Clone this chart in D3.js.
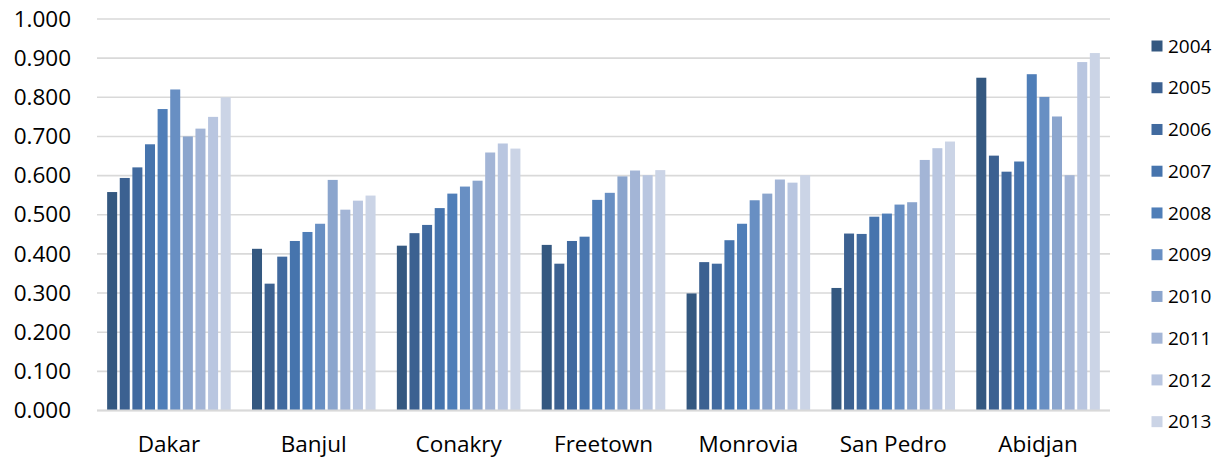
<!DOCTYPE html>
<html>
<head>
<meta charset="utf-8">
<script src="https://cdn.jsdelivr.net/npm/d3@7"></script>
<style>
  html, body { margin: 0; padding: 0; background: #fff; }
  svg { display: block; }
  text { font-family: "Open Sans", "Liberation Sans", sans-serif; fill: #000; }
</style>
</head>
<body>
<svg id="chart" width="1217" height="459"></svg>
<script>
// Cities along the x axis
const cities = ["Dakar", "Banjul", "Conakry", "Freetown", "Monrovia", "San Pedro", "Abidjan"];
// One series per year
const years = ["2004", "2005", "2006", "2007", "2008", "2009", "2010", "2011", "2012", "2013"];

// Index values per city, in year order 2004..2013
const dakar    = [0.558, 0.594, 0.621, 0.680, 0.770, 0.820, 0.700, 0.720, 0.750, 0.800];
const banjul   = [0.413, 0.324, 0.393, 0.433, 0.456, 0.477, 0.589, 0.513, 0.536, 0.549];
const conakry  = [0.421, 0.453, 0.474, 0.517, 0.554, 0.572, 0.587, 0.659, 0.682, 0.669];
const freetown = [0.423, 0.375, 0.433, 0.444, 0.538, 0.556, 0.598, 0.613, 0.601, 0.614];
const monrovia = [0.299, 0.379, 0.375, 0.435, 0.477, 0.537, 0.554, 0.590, 0.582, 0.601];
const sanPedro = [0.313, 0.452, 0.451, 0.495, 0.503, 0.526, 0.532, 0.640, 0.670, 0.687];
const abidjan  = [0.850, 0.651, 0.610, 0.636, 0.859, 0.801, 0.751, 0.601, 0.890, 0.913];

const yTicks = [0, 0.1, 0.2, 0.3, 0.4, 0.5, 0.6, 0.7, 0.8, 0.9, 1.0];

const colors = ["#345880", "#3c6191", "#416a9f", "#4674ad", "#4f7eb8",
                "#688fc3", "#8ba5cd", "#a3b5d6", "#b9c6e0", "#cbd4e6"];

const rows = [dakar, banjul, conakry, freetown, monrovia, sanPedro, abidjan];
const data = cities.map((c, i) => ({ city: c, values: years.map((y, j) => ({ year: y, value: rows[i][j] })) }));

const svg = d3.select("#chart");
const plot = { left: 97, right: 1110, top: 19, bottom: 410.5 };

const y = d3.scaleLinear().domain([0, 1]).range([plot.bottom, plot.top]);
const x0 = d3.scaleBand().domain(cities).range([plot.left, plot.right])
  .paddingInner(0.147).paddingOuter(0.07);
const x1 = d3.scaleBand().domain(years).range([0, x0.bandwidth()]).paddingInner(0.206).paddingOuter(0);
const color = d3.scaleOrdinal().domain(years).range(colors);

// Horizontal gridlines
svg.append("g")
  .selectAll("line")
  .data(yTicks)
  .join("line")
  .attr("x1", plot.left).attr("x2", plot.right)
  .attr("y1", d => y(d)).attr("y2", d => y(d))
  .attr("stroke", "#d9d9d9")
  .attr("stroke-width", 1.6);

// Y axis labels
const yAxis = d3.axisLeft(y).tickValues(yTicks).tickFormat(d3.format(".3f")).tickSize(0).tickPadding(0);
svg.append("g")
  .attr("transform", `translate(71,0)`)
  .call(yAxis)
  .call(g => g.select(".domain").remove())
  .call(g => g.selectAll("text")
    .attr("font-family", "'Open Sans', sans-serif")
    .attr("font-size", 22.5)
    .attr("fill", "#000"));

// Bars
svg.append("g")
  .selectAll("g")
  .data(data)
  .join("g")
  .attr("transform", d => `translate(${x0(d.city)},0)`)
  .selectAll("rect")
  .data(d => d.values)
  .join("rect")
  .attr("x", d => x1(d.year))
  .attr("width", x1.bandwidth())
  .attr("y", d => y(d.value))
  .attr("height", d => y(0) - y(d.value))
  .attr("fill", d => color(d.year));

// Baseline
svg.append("line")
  .attr("x1", plot.left).attr("x2", plot.right)
  .attr("y1", y(0)).attr("y2", y(0))
  .attr("stroke", "#d9d9d9").attr("stroke-width", 2);

// Category labels
const xAxis = d3.axisBottom(x0).tickSize(0).tickPadding(0);
svg.append("g")
  .attr("transform", `translate(0,452)`)
  .call(xAxis)
  .call(g => g.select(".domain").remove())
  .call(g => g.selectAll("text")
    .attr("dy", 0)
    .attr("font-family", "'Open Sans', sans-serif")
    .attr("font-size", 22.5)
    .attr("fill", "#000"));

// Legend
const legend = svg.append("g")
  .selectAll("g")
  .data(years)
  .join("g")
  .attr("transform", (d, i) => `translate(1151.5, ${46 + i * 41.74})`);
legend.append("rect")
  .attr("x", 0).attr("y", -5.5)
  .attr("width", 11).attr("height", 11)
  .attr("fill", d => color(d));
legend.append("text")
  .attr("x", 16.5).attr("y", 0)
  .attr("dy", "0.35em")
  .attr("font-size", 19)
  .text(d => d);
</script>
</body>
</html>
